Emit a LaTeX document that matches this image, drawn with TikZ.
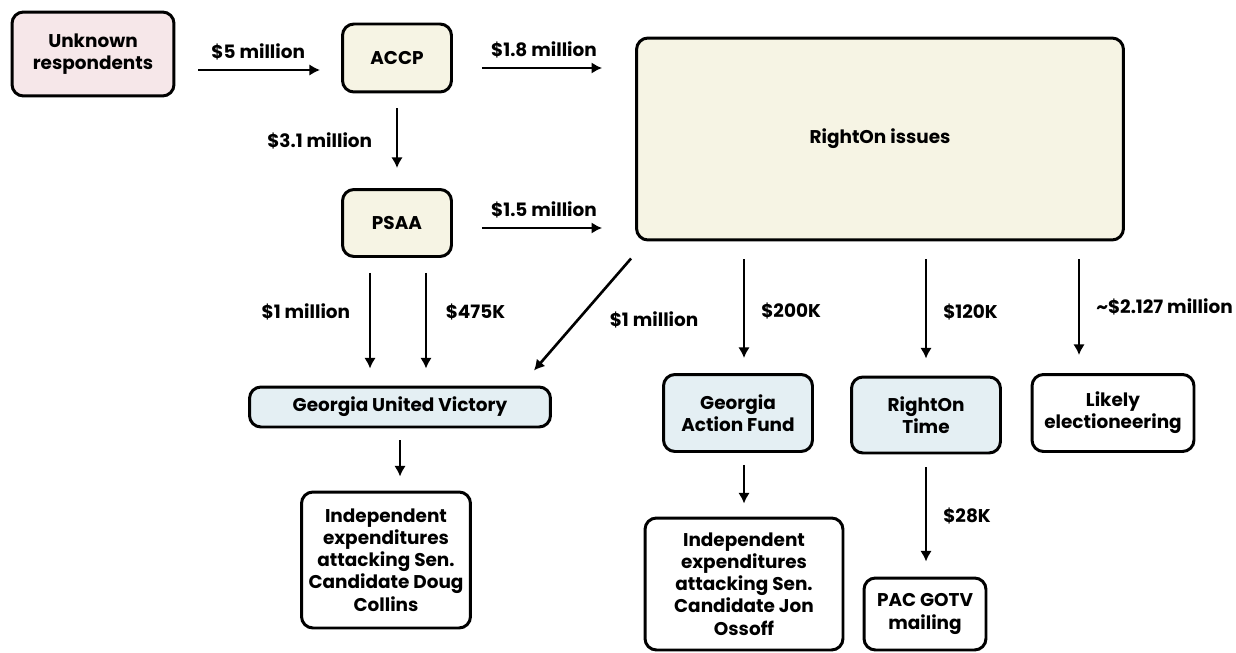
\documentclass[tikz,border=0pt]{standalone}
\usepackage{fontspec}
\setmainfont{Poppins}
\usepackage{xcolor}
\usetikzlibrary{arrows.meta,calc,positioning,shapes}
\definecolor{pinkfill}{HTML}{F6E7E9}
\definecolor{creamfill}{HTML}{F6F4E4}
\definecolor{bluefill}{HTML}{E4EFF3}
\newcommand{\lblfont}{\fontsize{10.5}{12.6}\selectfont\bfseries}
\tikzset{%
	box/.style      = {draw, rectangle, rounded corners=6.5pt, line width=1.7pt, align=center, inner sep=2pt, font=\lblfont},
	source/.style   = {box, fill=pinkfill}, % where the money comes from
	group/.style    = {box, fill=creamfill}, % nonprofits
	pac/.style      = {box, fill=bluefill}, % PACs
	spend/.style    = {box, fill=white}, % what it was spent on
	amount/.style   = {font=\lblfont, inner sep=2pt}, % money labels
	arrow/.style    = {line width=1.5pt, ->},
}

\begin{document}
\begin{tikzpicture}[x=0.02cm,y=-0.02cm,>={Latex[length=6pt,width=6.5pt]}]
	\useasboundingbox (0,0) rectangle (1236,652);
	\node [source,minimum width=3.24cm,minimum height=1.68cm] (unk) at (93,54) {Unknown\\respondents};
	\node [group,minimum width=2.18cm,minimum height=1.36cm] (accp) at (397,58) {ACCP};
	\node [group,minimum width=9.74cm,minimum height=4.04cm] (riss) at (880,139) {RightOn issues};
	\node [group,minimum width=2.18cm,minimum height=1.34cm] (psaa) at (397,223) {PSAA};
	\node [pac,minimum width=6.02cm,minimum height=0.8cm] (guv) at (400,407) {Georgia United Victory};
	\node [pac,minimum width=2.98cm,minimum height=1.54cm] (gaf) at (738,413) {Georgia\\Action Fund};
	\node [pac,minimum width=2.98cm,minimum height=1.52cm] (rtime) at (926,415) {RightOn\\Time};
	\node [spend,minimum width=3.24cm,minimum height=1.54cm] (likely) at (1113,413) {Likely\\electioneering};
	\node [spend,minimum width=3.38cm,minimum height=2.72cm] (ind1) at (386,560) {Independent\\expenditures\\attacking Sen.\\Candidate Doug\\Collins};
	\node [spend,minimum width=3.96cm,minimum height=2.64cm] (ind2) at (744,584) {Independent\\expenditures\\attacking Sen.\\Candidate Jon\\Ossoff};
	\node [spend,minimum width=2.44cm,minimum height=1.44cm] (gotv) at (925,614) {PAC GOTV\\mailing};

	\draw[arrow,shorten <=0.46cm,shorten >=0.42cm] ([yshift=-0.32cm]unk.east) -- node[amount,above=3pt] {\$5 million} ([yshift=-0.32cm]unk.east -| accp.west);
	\draw[arrow,shorten <=0.58cm,shorten >=0.66cm] ([yshift=-0.2cm]accp.east) -- node[amount,above=3pt] {\$1.8 million} ([yshift=-0.2cm]accp.east -| riss.west);
	\draw[arrow,shorten <=0.3cm,shorten >=0.4cm] (accp.south) -- node[amount,left=0.4cm] {\$3.1 million} (psaa.north);
	\draw[arrow,shorten <=0.58cm,shorten >=0.66cm] ([yshift=-0.1cm]psaa.east) -- node[amount,above=3pt] {\$1.5 million} ([yshift=-0.1cm]psaa.east -| riss.west);
	\draw[arrow,shorten <=0.3cm,shorten >=0.34cm] ([xshift=-0.54cm]psaa.south) -- node[amount,left=0.3cm,yshift=0.2cm] {\$1 million} ([xshift=-0.54cm]psaa.south |- guv.north);
	\draw[arrow,shorten <=0.3cm,shorten >=0.34cm] ([xshift=0.58cm]psaa.south) -- node[amount,right=0.3cm,yshift=0.2cm] {\$475K} ([xshift=0.58cm]psaa.south |- guv.north);
	\draw[arrow] ([xshift=-0.08cm,yshift=-0.34cm]riss.south west) -- node[amount,right=0.45cm,yshift=-0.1cm] {\$1 million} ([xshift=-0.36cm,yshift=0.3cm]guv.north east);
	\draw[arrow,shorten <=0.36cm,shorten >=0.3cm] (riss.south -| ind2.north) -- node[amount,right=0.25cm,yshift=-0.08cm] {\$200K} (gaf.north -| ind2.north);
	\draw[arrow,shorten <=0.36cm,shorten >=0.34cm] (riss.south -| rtime.north) -- node[amount,right=0.25cm,yshift=-0.08cm] {\$120K} (rtime.north);
	\draw[arrow,shorten <=0.36cm,shorten >=0.36cm] ([xshift=-0.68cm]riss.south -| likely.north) -- node[amount,right=0.25cm] {\char`\~\$2.127 million} ([xshift=-0.68cm]likely.north);
	\draw[arrow,shorten <=0.24cm,shorten >=0.28cm] (guv.south) -- (guv.south |- ind1.north);
	\draw[arrow,shorten <=0.24cm,shorten >=0.26cm] (ind2.north |- gaf.south) -- (ind2.north);
	\draw[arrow,shorten <=0.26cm,shorten >=0.3cm] (rtime.south) -- node[amount,right=0.25cm] {\$28K} (rtime.south |- gotv.north);
\end{tikzpicture}
\end{document}
